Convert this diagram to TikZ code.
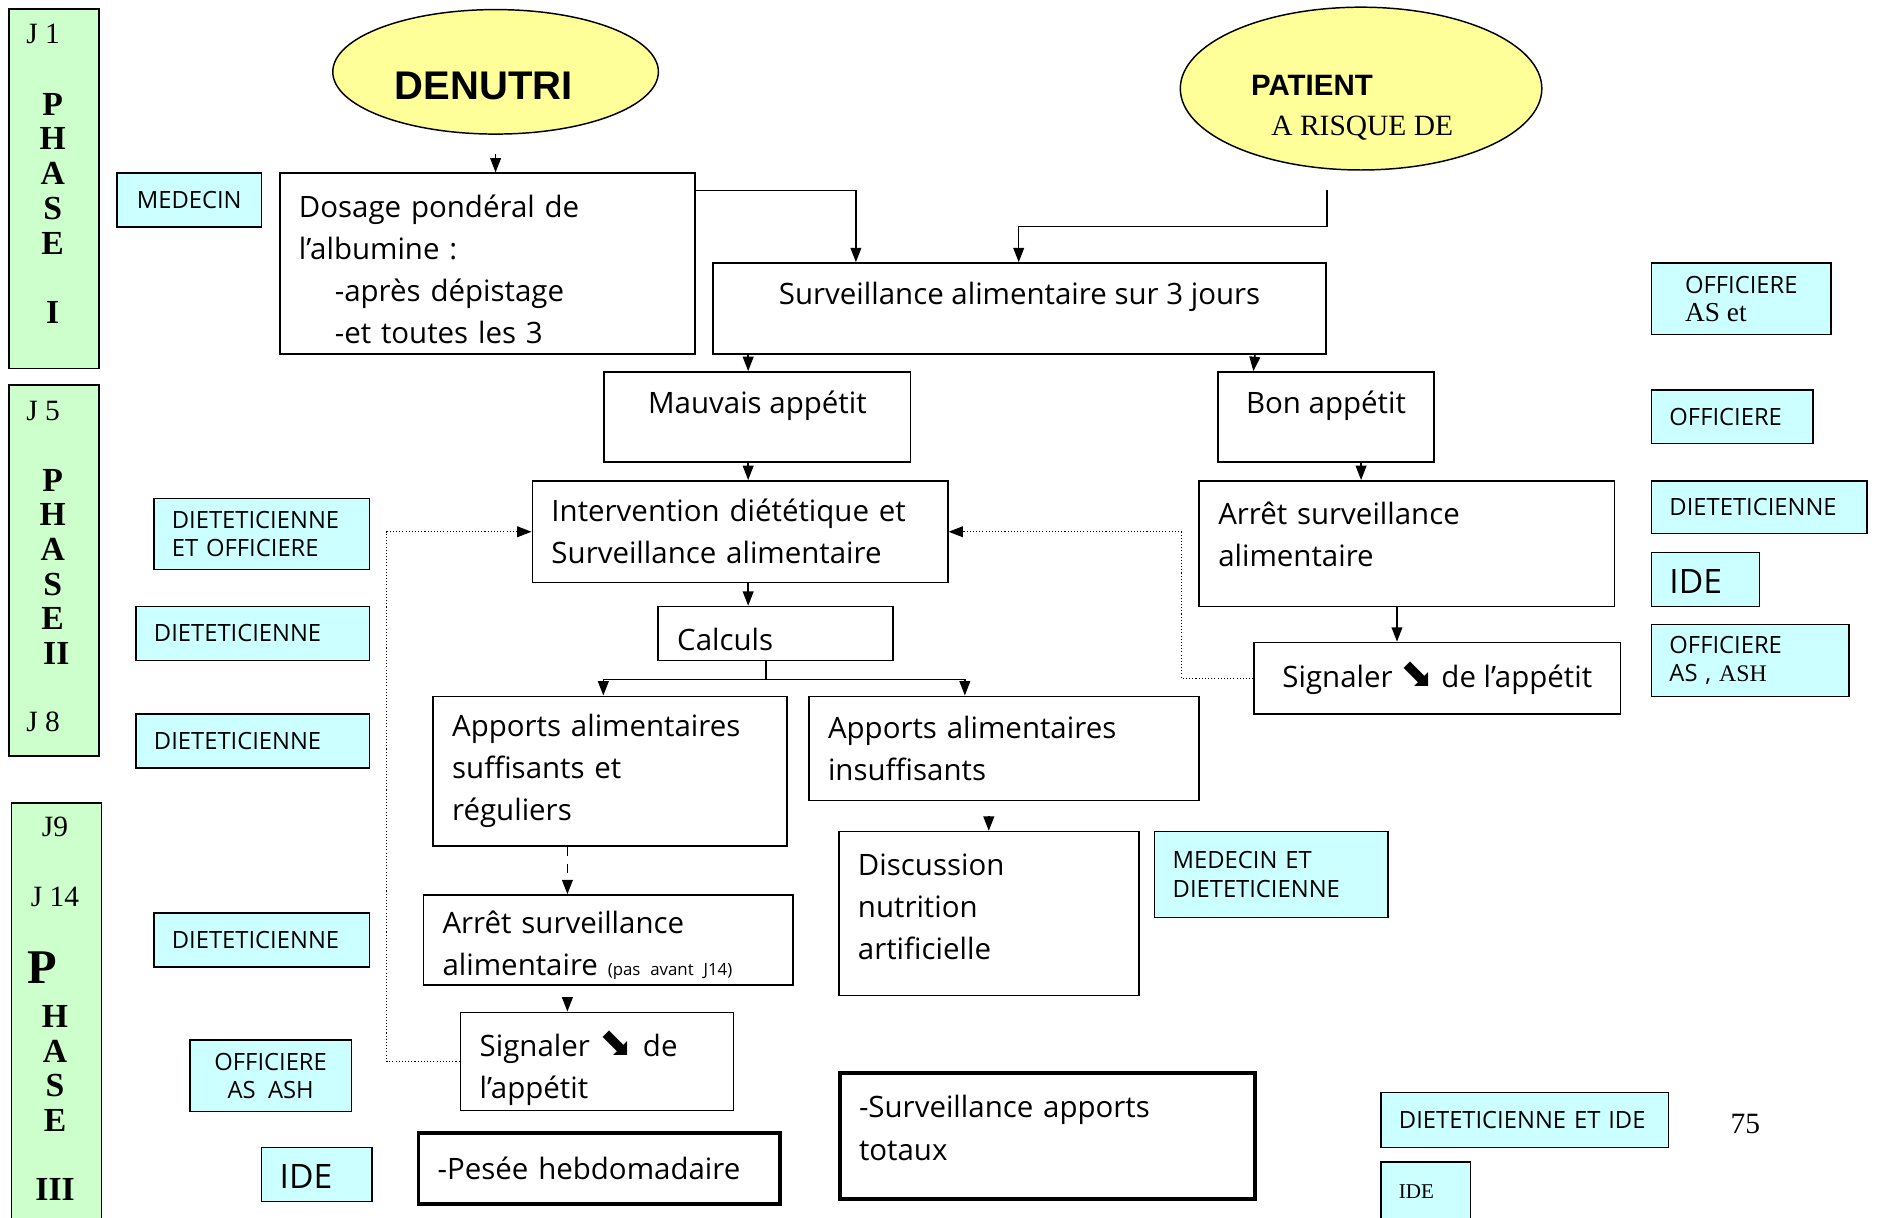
\documentclass[tikz,border=0pt]{standalone}
\usepackage{fontspec}
\setmainfont{Liberation Serif}
\newfontfamily\boxfont{Open Sans}
\newfontfamily\headfont{Liberation Sans}
\newfontfamily\symfont{DejaVu Sans}
\usepackage{tikz}
\usetikzlibrary{arrows.meta,positioning,calc,shapes.geometric}
\definecolor{cRole}{HTML}{CCFFFF}
\definecolor{cPhase}{HTML}{CCFFCC}
\definecolor{cOval}{HTML}{FFFF99}
\definecolor{cLine}{HTML}{000000}
\newcommand{\dwn}{{\symfont\fontsize{19}{19}\selectfont\char"2B0A}}
\tikzset{
  blk/.style={draw=cLine, line width=0.8pt, fill=white, anchor=north west,
              inner xsep=3.2mm, inner ysep=0pt, align=left,
              font=\boxfont\fontsize{14}{20}\selectfont},
  thkblk/.style={blk, line width=1.8pt},
  rolebox/.style={draw=cLine, line width=0.7pt, fill=cRole, anchor=north west,
              inner xsep=3mm, inner ysep=0pt, align=left,
              font=\boxfont\fontsize{11.3}{13.5}\selectfont},
  phasebar/.style={draw=cLine, line width=0.8pt, fill=cPhase, anchor=north west, inner sep=0pt},
  ovalblk/.style={ellipse, draw=cLine, line width=0.7pt, fill=cOval, inner sep=0pt},
  phaselbl/.style={font=\fontsize{16}{16}\selectfont\bfseries, inner sep=0pt},
  daylbl/.style={font=\fontsize{14}{14}\selectfont, inner sep=0pt},
  bigrole/.style={font=\boxfont\fontsize{16}{16}\selectfont, text height=4.6mm},
  arr/.style={-{Triangle[length=2.4mm,width=1.8mm]}, line width=0.7pt, cLine},
  dotarr/.style={arr, line width=0.5pt, densely dotted},
  dasharr/.style={arr, dash pattern=on 1.6mm off 1.2mm},
  sz/.style 2 args={minimum width=#1, minimum height=#2}
}

\begin{document}
\begin{tikzpicture}[x=0.2mm, y=-0.2mm]
\useasboundingbox (0,0) rectangle (1568,1017);
% Phase columns
\node[phasebar, sz={15mm}{60mm}] (ph1) at (7,7) {};
\node[phasebar, sz={15mm}{62mm}] (ph2) at (7,321) {};
\node[phasebar, sz={15mm}{72mm}] (ph3) at (9,670) {};
\node[daylbl] (j1) at (36,28) {J 1};
\foreach \l [count=\i] in {P,H,A,S,E} \node[phaselbl] (pa\i) at (44,58+29*\i) {\l};
\node[phaselbl] (pa6) at (44,261) {I};
\node[daylbl] (j5) at (36,343) {J 5};
\foreach \l [count=\i] in {P,H,A,S,E} \node[phaselbl] (pb\i) at (44,372+29*\i) {\l};
\node[phaselbl] (pb6) at (47,546) {II};
\node[daylbl] (j8) at (36,603) {J 8};
\node[daylbl] (j9) at (46,691) {J9};
\node[daylbl] (j14) at (46,749) {J 14};
\node[phaselbl, font=\fontsize{23}{23}\selectfont\bfseries] (pc1) at (35,808) {P};
\foreach \l [count=\i] in {H,A,S,E} \node[phaselbl] (pc\i x) at (46,820+29*\i) {\l};
\node[phaselbl] (pc6) at (46,994) {III};
% Ovals
\node[ovalblk, sz={54.4mm}{20.8mm}] (denutri) at (414,60) {};
\node[font=\headfont\bfseries\fontsize{19}{19}\selectfont, inner sep=0pt] (denutritxt) at (404,72) {DENUTRI};
\node[ovalblk, sz={60.4mm}{27.2mm}] (patient) at (1137,74) {};
\node[font=\headfont\bfseries\fontsize{14}{14}\selectfont, inner sep=0pt] (patienttxt) at (1096,71) {PATIENT};
\node[font=\fontsize{14}{14}\selectfont, inner sep=0pt] (risquetxt) at (1138,107) {A RISQUE DE};
% Flow boxes
\node[blk, sz={69.4mm}{30.2mm}, text width=63mm, text depth=19.1mm] (dosage) at (233,144) {Dosage pondéral de\\l’albumine :\\\hspace*{6mm}-après dépistage\\\hspace*{6mm}-et toutes les 3};
\node[blk, sz={102.4mm}{15.2mm}, align=center, text depth=5mm] (surv3) at (595,219) {Surveillance alimentaire sur 3 jours};
\node[blk, sz={51.2mm}{15mm}, align=center, text depth=5mm] (mauvais) at (504,310) {Mauvais appétit};
\node[blk, sz={36mm}{15mm}, align=center, text depth=5mm] (bon) at (1017,310) {Bon appétit};
\node[blk, sz={69.4mm}{17mm}, text width=63mm] (interv) at (444,401) {Intervention diététique et\\Surveillance alimentaire};
\node[blk, sz={69.4mm}{21mm}, text width=63mm, text depth=10.2mm] (arret1) at (1001,401) {Arrêt surveillance\\alimentaire};
\node[blk, sz={39.2mm}{9mm}, text width=32.8mm, text height=5.7mm] (calculs) at (549,506) {Calculs};
\node[blk, sz={61.2mm}{12mm}, align=center] (signalR) at (1047,536) {Signaler \dwn{} de l’appétit};
\node[blk, sz={59.2mm}{25mm}, text width=52.8mm] (suff) at (361,581) {Apports alimentaires\\suffisants et\\réguliers};
\node[blk, sz={65.2mm}{17.4mm}, text width=58.8mm] (insuff) at (675,581) {Apports alimentaires\\insuffisants};
\node[blk, sz={50.2mm}{27.4mm}, text width=43.8mm, text depth=16.5mm] (discuss) at (700,694) {Discussion\\nutrition\\artificielle};
\node[blk, sz={61.8mm}{15mm}, text width=55.4mm, text depth=6mm] (arret2) at (353,747) {Arrêt surveillance\\alimentaire {\fontsize{8}{8}\selectfont(pas avant J14)}};
\node[blk, sz={45.6mm}{16.4mm}, text width=39.2mm, text depth=5.8mm] (signalL) at (384,845) {Signaler \dwn{} de\\l’appétit};
\node[thkblk, sz={60.4mm}{11.8mm}, text width=54mm] (pesee) at (348,945) {-Pesée hebdomadaire};
\node[thkblk, sz={69.4mm}{21mm}, text width=63mm, text depth=9.8mm] (totaux) at (700,895) {-Surveillance apports\\totaux};
% Roles
\node[rolebox, sz={24.2mm}{9mm}, align=center] (rMed) at (97,144) {MEDECIN};
\node[rolebox, sz={36mm}{11.8mm}, text width=30mm] (rDietOff) at (128,416) {DIETETICIENNE\\ET OFFICIERE};
\node[rolebox, sz={39mm}{9mm}, text width=33mm] (rDiet1) at (113,506) {DIETETICIENNE};
\node[rolebox, sz={39mm}{9mm}, text width=33mm] (rDiet2) at (113,596) {DIETETICIENNE};
\node[rolebox, sz={36mm}{9mm}, text width=30mm] (rDiet3) at (128,762) {DIETETICIENNE};
\node[rolebox, sz={27mm}{12mm}, align=center] (rOffAsh) at (158,868) {OFFICIERE\\AS~~ASH};
\node[rolebox, bigrole, sz={18.4mm}{9mm}, text width=12.4mm] (rIde1) at (218,958) {IDE};
\node[rolebox, sz={39mm}{14.4mm}, text width=33mm] (rMedDiet) at (964,694) {MEDECIN ET\\DIETETICIENNE};
\node[rolebox, sz={30mm}{12mm}] (rOffAs) at (1379,219) {OFFICIERE\\{\rmfamily\fontsize{13}{13}\selectfont AS et}};
\node[rolebox, sz={27mm}{9mm}, text width=21mm] (rOff) at (1379,325) {OFFICIERE};
\node[rolebox, sz={36mm}{8.8mm}, text width=30mm] (rDiet4) at (1379,401) {DIETETICIENNE};
\node[rolebox, bigrole, sz={18mm}{9mm}, text width=12mm] (rIde2) at (1379,461) {IDE};
\node[rolebox, sz={33mm}{12mm}, text width=27mm] (rOffAsAsh) at (1379,521) {OFFICIERE\\AS , {\rmfamily ASH}};
\node[rolebox, sz={48mm}{9.2mm}, text width=42mm] (rDietIde) at (1153,912) {DIETETICIENNE ET IDE};
\node[rolebox, sz={15mm}{10mm}, text width=9mm, font=\rmfamily\fontsize{10}{10}\selectfont] (rIde3) at (1153,970) {IDE};
\node[daylbl] (pgnum) at (1458,939) {75};
% Connectors
\coordinate (dnout) at ($(denutri.south)+(0,16)$);
\draw[arr] (dnout) -- (dnout |- dosage.north);
\draw[arr] ($(dosage.north east)+(0,15)$) -| ($(surv3.north west)+(120,0)$);
\coordinate (riskout) at ($(surv3.north east)+(0,-60)$);
\draw[arr] (riskout) -- ++(0,30) -| ($(surv3.north west)+(256,0)$);
\draw[arr] ($(surv3.south west)+(30,0)$) -- ($(mauvais.north west)+(121,0)$);
\draw[arr] ($(surv3.south east)+(-60,0)$) -- ($(bon.north west)+(30,0)$);
\draw[arr] ($(mauvais.south west)+(121,0)$) -- ($(interv.north west)+(181,0)$);
\draw[arr] ($(bon.south west)+(120,0)$) -- ($(arret1.north west)+(136,0)$);
\draw[arr] ($(interv.south west)+(181,0)$) -- ($(calculs.north west)+(76,0)$);
\draw[arr] ($(arret1.south west)+(166,0)$) -- ($(signalR.north west)+(120,0)$);
\draw[line width=0.7pt] ($(calculs.south west)+(91,0)$) -- ++(0,15) coordinate (split);
\draw[arr] (split) -| ($(suff.north west)+(143,0)$);
\draw[arr] (split) -| ($(insuff.north west)+(131,0)$);
\draw[dotarr] (signalR.west) -- ++(-60,0) |- (interv.east);
\draw[dotarr] (signalL.west) -- ++(-61,0) |- (interv.west);
\draw[dasharr] ($(suff.south west)+(113,0)$) -- ($(arret2.north west)+(121,0)$);
\draw[arr] ($(arret2.south west)+(121,10)$) -- ($(signalL.north west)+(90,0)$);
\draw[arr] ($(insuff.south west)+(151,12)$) -- ($(discuss.north west)+(126,0)$);
\end{tikzpicture}
\end{document}
